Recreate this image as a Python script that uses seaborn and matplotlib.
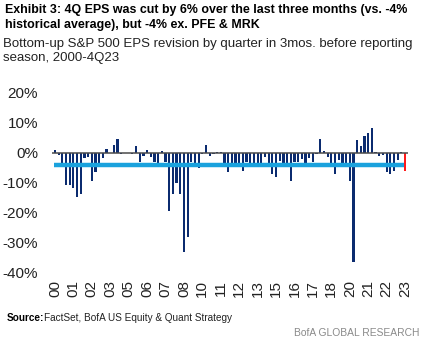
import numpy as np
import pandas as pd
import matplotlib
matplotlib.use("Agg")
import matplotlib.pyplot as plt
import seaborn as sns

# Quarterly EPS revision (%) in the 3 months before reporting, 1Q00 .. 4Q23
revision = [
    0.8, -0.8, -4.8, -10.8, -10.8, -12.0, -15.0, -14.0,      # 2000-2001
    -1.8, -1.5, -9.5, -6.5, -4.0, -1.8, 1.2, -0.2,            # 2002-2003
    2.5, 4.7, -0.5, -0.2, -0.2, -0.5, 2.2, -3.2,              # 2004-2005
    -1.0, 0.9, -1.3, -3.2, -3.8, 0.5, -3.2, -19.5,            # 2006-2007
    -14.0, -10.0, -13.7, -33.2, -28.2, -3.2, -3.8, -5.3,      # 2008-2009
    -0.5, 2.6, -1.0, -0.5, 0.3, 0.3, -3.6, -6.5,              # 2010-2011
    -3.4, -3.6, -3.3, -6.0, -3.2, -3.8, -3.5, -3.6,           # 2012-2013
    -3.4, -1.5, -3.6, -7.0, -8.0, -2.8, -3.5, -4.6,           # 2014-2015
    -9.4, -3.0, -3.1, -2.2, -3.5, -1.9, -3.1, -0.5,           # 2016-2017
    4.7, 0.5, -1.4, -3.9, -7.3, -2.3, -3.8, -4.8,             # 2018-2019
    -9.4, -36.8, 4.2, 2.1, 5.5, 6.7, 8.4, 0.2,                # 2020-2021
    -1.1, -0.9, -6.5, -7.0, -6.2, -2.4, 0.3, -6.0,            # 2022-2023
]
historical_avg = -4.0
years = [f"{y:02d}" for y in range(0, 24)]
quarters = [f"{q}Q{y}" for y in years for q in range(1, 5)]
tick_every = 5

navy = "#0B2B6F"
red = "#FF1A1A"
avg_blue = "#1AA2DD"

df = pd.DataFrame({"quarter": quarters, "revision": revision})
palette = {q: navy for q in quarters}
palette[quarters[-1]] = red

sns.set_theme(style="white")
plt.rcParams["font.family"] = ["Liberation Sans", "DejaVu Sans"]

fig = plt.figure(figsize=(4.25, 3.41), dpi=100)
ax = fig.add_axes([52 / 425, 1 - 272 / 341, 356 / 425, (272 - 93) / 341])

sns.barplot(data=df, x="quarter", y="revision", hue="quarter", palette=palette,
            legend=False, width=0.6, ax=ax, saturation=1, edgecolor="none")

ax.axhline(0, color="#4A4A4A", lw=1.1, zorder=3)
# historical average line runs up to the latest quarter, which stays visible
ax.plot([-0.35, len(df) - 1.32], [historical_avg, historical_avg],
        color=avg_blue, lw=3.2, zorder=4, solid_capstyle="butt")

ax.set_ylim(-40, 20)
ax.set_xlim(-0.8, len(df) - 0.2)
yt = np.arange(-40, 21, 10)
ax.set_yticks(yt)
ax.set_yticklabels([f"{v}%" for v in yt], fontsize=11, color="#222222")
xt = np.arange(0, len(df), tick_every)
ax.set_xticks(xt)
ax.set_xticklabels([quarters[i][-2:] for i in xt], rotation=90, fontsize=11,
                   color="#222222")
ax.tick_params(axis="y", length=0, pad=10)
ax.tick_params(axis="x", length=0, pad=6)
ax.set_xlabel("")
ax.set_ylabel("")
for s in ax.spines.values():
    s.set_visible(False)

fig.text(5 / 425, 1 - 4 / 341,
         "Exhibit 3: 4Q EPS was cut by 6% over the last three months (vs. -4%\n"
         "historical average), but -4% ex. PFE & MRK",
         ha="left", va="top", fontsize=8.9, fontweight="bold", color="#000000",
         linespacing=1.3)
fig.text(3 / 425, 1 - 38 / 341,
         "Bottom-up S&P 500 EPS revision by quarter in 3mos. before reporting\n"
         "season, 2000-4Q23",
         ha="left", va="top", fontsize=9.5, color="#222222", linespacing=1.25)

fig.text(7 / 425, 1 - 318 / 341, "Source:", ha="left", va="center",
         fontsize=7.2, fontweight="bold", color="#000000")
fig.text(44 / 425, 1 - 318 / 341, "FactSet, BofA US Equity & Quant Strategy",
         ha="left", va="center", fontsize=7.2, color="#222222")
fig.text(419 / 425, 1 - 333 / 341, "BofA GLOBAL RESEARCH", ha="right", va="center",
         fontsize=7.4, color="#8A8A8A")

fig.savefig("out.png", dpi=100)
